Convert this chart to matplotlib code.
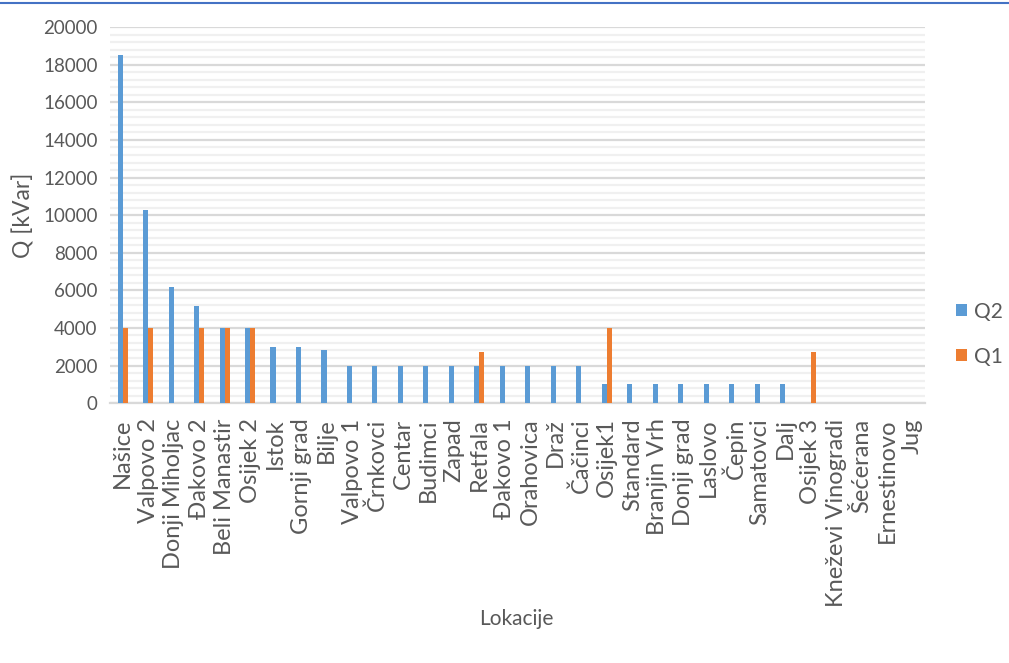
import matplotlib
matplotlib.use("Agg")
import matplotlib.pyplot as plt
import numpy as np
from matplotlib.lines import Line2D
from matplotlib.ticker import MultipleLocator

categories = ["Našice", "Valpovo 2", "Donji Miholjac", "Đakovo 2", "Beli Manastir", "Osijek 2",
              "Istok", "Gornji grad", "Bilje", "Valpovo 1", "Črnkovci", "Centar", "Budimci",
              "Zapad", "Retfala", "Đakovo 1", "Orahovica", "Draž", "Čačinci", "Osijek1",
              "Standard", "Branjin Vrh", "Donji grad", "Laslovo", "Čepin", "Samatovci", "Dalj",
              "Osijek 3", "Kneževi Vinogradi", "Šećerana", "Ernestinovo", "Jug"]
q2 = [18500, 10300, 6200, 5150, 4000, 4000, 3000, 3000, 2800, 2000, 2000, 2000, 2000,
      2000, 2000, 1950, 1950, 1950, 1950, 1000, 1000, 1000, 1000, 1000, 1000, 1000, 1000,
      0, 0, 0, 0, 0]
q1 = [4000, 4000, 0, 4000, 4000, 4000, 0, 0, 0, 0, 0, 0, 0,
      0, 2700, 0, 0, 0, 0, 4000, 0, 0, 0, 0, 0, 0, 0,
      2700, 0, 0, 0, 0]
yticks = [0, 2000, 4000, 6000, 8000, 10000, 12000, 14000, 16000, 18000, 20000]

plt.rcParams['font.family'] = ['Lato', 'DejaVu Sans']
TXT = '#595959'

fig = plt.figure(figsize=(10.09, 6.63), dpi=100)
ax = fig.add_axes([0.109, 0.392, 0.808, 0.567])

x = np.arange(len(categories))
w = 0.2
ax.bar(x - w / 2, q2, width=w, color='#5B9BD5', label='Q2', zorder=3)
ax.bar(x + w / 2, q1, width=w, color='#ED7D31', label='Q1', zorder=3)

ax.set_xlim(-0.5, len(categories) - 0.5)
ax.set_ylim(0, 20000)
ax.set_yticks(yticks)
ax.yaxis.set_minor_locator(MultipleLocator(400))
ax.grid(axis='y', which='major', color='#D9D9D9', linewidth=1.6, zorder=0)
ax.grid(axis='y', which='minor', color='#F0F0F0', linewidth=1.6, zorder=0)
ax.set_axisbelow(True)

for s in ['top', 'right', 'left']:
    ax.spines[s].set_visible(False)
ax.spines['bottom'].set_color('#D9D9D9')
ax.spines['bottom'].set_linewidth(1.6)

ax.set_xticks(x)
ax.set_xticklabels(categories, rotation=90, fontsize=17, color=TXT)
ax.tick_params(axis='both', which='both', length=0)
ax.tick_params(axis='y', labelsize=13.5, labelcolor=TXT, pad=9)
ax.tick_params(axis='x', pad=11)

fig.text(0.023, 0.675, 'Q [kVar]', fontsize=16.5, color=TXT, rotation=90,
         ha='center', va='center')
fig.text(0.512, 0.066, 'Lokacije', fontsize=15, color=TXT, ha='center', va='center')

leg = ax.legend(loc='center left', bbox_to_anchor=(1.015, 0.1835), frameon=False,
                fontsize=15, labelcolor=TXT, handlelength=0.5, handleheight=0.5,
                handletextpad=0.35, labelspacing=1.2)

fig.add_artist(Line2D([0, 1], [0.996, 0.996], transform=fig.transFigure,
                      color='#4472C4', linewidth=1.5))

fig.savefig('out.png', dpi=100)
